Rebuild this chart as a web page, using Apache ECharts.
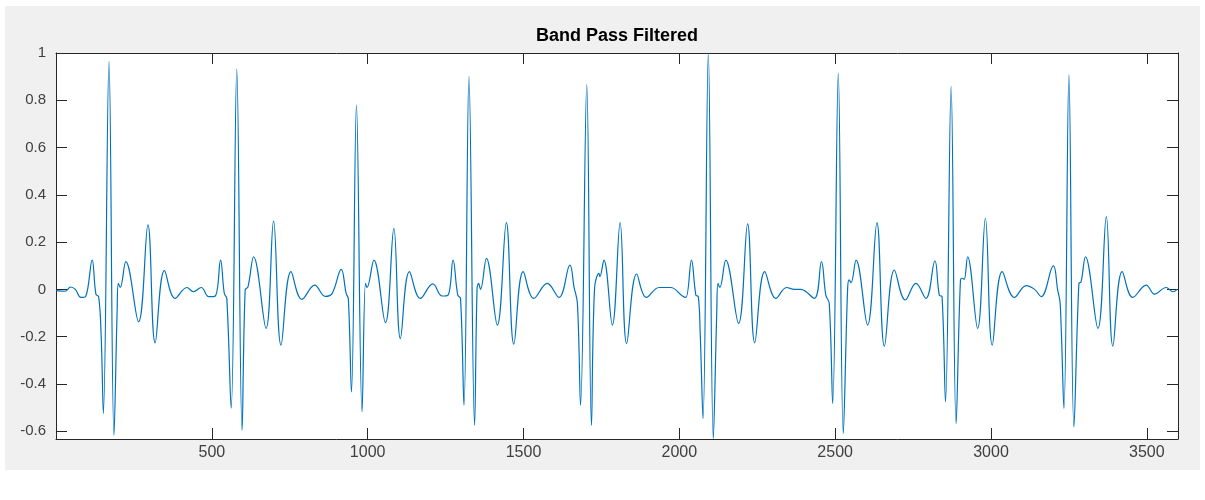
<!DOCTYPE html>
<html>
<head>
<meta charset="utf-8">
<script src="https://cdn.jsdelivr.net/npm/echarts@6/dist/echarts.min.js"></script>
<style>
html,body{margin:0;padding:0;background:#ffffff;}
#chart{width:1205px;height:500px;}
</style>
</head>
<body>
<div id="chart"></div>
<script>
// ---- data (sample index, filtered amplitude) ----
var sampleX = [
  1, 29, 47, 62, 80, 95, 116, 128, 137, 145, 152, 170, 186, 196, 200, 206, 224, 265, 295, 318,
  348, 382, 420, 441, 466, 490, 511, 528, 540, 548, 562, 580, 597, 607, 616, 634, 674, 698, 722, 754,
  789, 830, 864, 886, 915, 931, 938, 948, 964, 982, 993, 998, 1020, 1057, 1084, 1105, 1134, 1169, 1209, 1239,
  1258, 1274, 1289, 1298, 1309, 1325, 1343, 1351, 1356, 1362, 1381, 1416, 1445, 1469, 1499, 1533, 1576, 1614, 1649, 1662,
  1673, 1683, 1703, 1718, 1728, 1742, 1745, 1758, 1785, 1810, 1831, 1863, 1894, 1935, 1972, 2010, 2021, 2039, 2053, 2061,
  2067, 2076, 2093, 2109, 2120, 2124, 2130, 2149, 2190, 2219, 2242, 2274, 2310, 2344, 2369, 2390, 2433, 2456, 2470, 2481,
  2492, 2510, 2526, 2540, 2545, 2551, 2567, 2604, 2634, 2658, 2690, 2725, 2759, 2791, 2820, 2834, 2843, 2854, 2872, 2888,
  2902, 2909, 2914, 2925, 2957, 2982, 3004, 3036, 3075, 3113, 3140, 3161, 3200, 3214, 3222, 3234, 3250, 3266, 3282, 3289,
  3303, 3343, 3370, 3391, 3421, 3455, 3498, 3525, 3562, 3584, 3597
];
var signalY = [
  -0.005, -0.008, 0.01, 0.0, -0.034, -0.03, 0.124, -0.02, -0.032, -0.2, -0.525, 0.965, -0.617, -0.1, 0.025, 0.008, 0.117, -0.137, 0.273, -0.226,
  0.079, -0.038, 0.008, -0.01, 0.008, -0.031, -0.028, 0.124, -0.017, -0.038, -0.503, 0.932, -0.596, -0.003, 0.011, 0.138, -0.165, 0.29, -0.236, 0.075,
  -0.042, 0.018, -0.03, -0.017, 0.085, -0.017, -0.04, -0.434, 0.78, -0.518, 0.025, 0.008, 0.124, -0.141, 0.258, -0.208, 0.075, -0.038, 0.023, -0.028,
  -0.024, 0.124, -0.024, -0.038, -0.49, 0.901, -0.575, 0.004, 0.025, 0.0, 0.131, -0.151, 0.282, -0.232, 0.075, -0.038, 0.025, -0.034, 0.103, 0.011,
  -0.06, -0.49, 0.866, -0.575, 0.004, 0.068, 0.054, 0.124, -0.151, 0.282, -0.229, 0.065, -0.034, 0.008, 0.008, -0.028, -0.034, 0.124, -0.024, -0.031,
  -0.186, -0.547, 1.0, -0.631, -0.102, 0.025, 0.008, 0.124, -0.144, 0.277, -0.226, 0.075, -0.038, 0.008, 0.0, 0.0, -0.038, 0.117, -0.024, -0.06,
  -0.483, 0.915, -0.61, 0.004, 0.04, 0.028, 0.124, -0.151, 0.282, -0.24, 0.082, -0.045, 0.025, -0.038, 0.121, -0.024, -0.031, -0.476, 0.859, -0.568,
  0.04, 0.047, 0.042, 0.138, -0.165, 0.301, -0.236, 0.075, -0.034, 0.016, 0.0, -0.031, 0.099, -0.003, -0.06, -0.504, 0.908, -0.582, 0.025, 0.032,
  0.138, -0.165, 0.308, -0.24, 0.075, -0.034, 0.018, -0.02, 0.008, -0.01, 0.0
];
var xTickLabels = [500, 1000, 1500, 2000, 2500, 3000, 3500];
var yTickLabels = [-0.6, -0.4, -0.2, 0, 0.2, 0.4, 0.6, 0.8, 1];
var chartTitle = 'Band Pass Filtered';

var points = sampleX.map(function (x, i) { return [x, signalY[i]]; });

var axisColor = '#262626';
var labelColor = '#404040';
var fontFam = '"Liberation Sans", Arial, Helvetica, sans-serif';

function isTick(list, v) {
  for (var i = 0; i < list.length; i++) { if (Math.abs(list[i] - v) < 1e-6) return true; }
  return false;
}

var chart = echarts.init(document.getElementById('chart'), null, {renderer: 'canvas'});
chart.setOption({
  animation: false,
  backgroundColor: '#ffffff',
  graphic: [
    {type: 'rect', z: -100, silent: true, shape: {x: 5, y: 6, width: 1195, height: 464}, style: {fill: '#f0f0f0'}},
    {type: 'text', z: 100, silent: true, x: 617, y: 36,
      style: {text: chartTitle, fill: '#000000', font: 'bold 18px ' + fontFam, textAlign: 'center', textVerticalAlign: 'middle'}}
  ],
  grid: {left: 56, right: 27, top: 53, bottom: 61, show: true, backgroundColor: '#ffffff', borderWidth: 0, containLabel: false},
  xAxis: [
    {type: 'value', min: 0, max: 3600, interval: 500, position: 'bottom',
      axisLine: {show: true, onZero: false, lineStyle: {color: axisColor, width: 1}},
      axisTick: {show: true, inside: true, length: 11, lineStyle: {color: axisColor}},
      axisLabel: {show: true, color: labelColor, fontSize: 16, fontFamily: fontFam, margin: 6,
        formatter: function (v) { return isTick(xTickLabels, v) ? String(v) : ''; }},
      splitLine: {show: false}},
    {type: 'value', min: 0, max: 3600, interval: 500, position: 'top',
      axisLine: {show: true, onZero: false, lineStyle: {color: axisColor, width: 1}},
      axisTick: {show: true, inside: true, length: 11, lineStyle: {color: axisColor}},
      axisLabel: {show: false}, splitLine: {show: false}}
  ],
  yAxis: [
    {type: 'value', min: -0.633, max: 1, splitNumber: 8, position: 'left',
      axisLine: {show: true, onZero: false, lineStyle: {color: axisColor, width: 1}},
      axisTick: {show: true, inside: true, length: 11, lineStyle: {color: axisColor}},
      axisLabel: {show: true, color: labelColor, fontSize: 15, fontFamily: fontFam, margin: 10,
        formatter: function (v) { return isTick(yTickLabels, v) ? String(Math.round(v * 10) / 10) : ''; }},
      splitLine: {show: false}},
    {type: 'value', min: -0.633, max: 1, splitNumber: 8, position: 'right',
      axisLine: {show: true, onZero: false, lineStyle: {color: axisColor, width: 1}},
      axisTick: {show: true, inside: true, length: 11, lineStyle: {color: axisColor}},
      axisLabel: {show: false}, splitLine: {show: false}}
  ],
  series: [{
    type: 'line', xAxisIndex: 0, yAxisIndex: 0, data: points,
    showSymbol: false, symbol: 'none', smooth: 0.4, clip: true,
    lineStyle: {color: '#0072BD', width: 1.2}
  }]
});
</script>
</body>
</html>
